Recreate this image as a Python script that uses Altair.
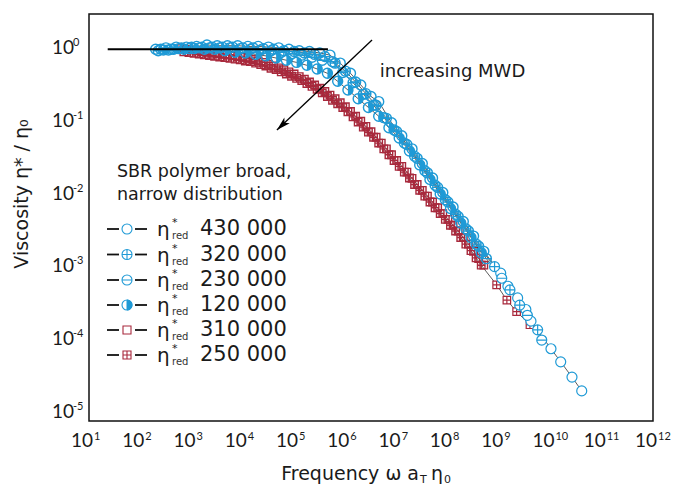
import altair as alt
import pandas as pd

BLUE = "#1f9ad6"
RED = "#a8293c"
FONT = "Lato"
TFONT = "DejaVu Sans"

# ---- data (log10 of frequency and of viscosity ratio) ----
s430_lx = [2.3, 2.5, 2.7, 2.9, 3.1, 3.3, 3.5, 3.7, 3.9, 4.1, 4.3, 4.5, 4.7, 4.9, 5.1, 5.3, 5.5, 5.7, 5.9, 6.1,
           6.3, 6.5, 6.65, 6.9, 7.1, 7.3, 7.5, 7.7, 7.9, 8.1, 8.3, 8.5, 8.7,
           9.03, 9.17, 9.36, 9.52, 9.62, 10.01, 10.2, 10.42, 10.61]
s430_ly = [0.0, 0.02, 0.03, 0.03, 0.04, 0.06, 0.05, 0.05, 0.05, 0.04, 0.04, 0.03, 0.02, 0.0, -0.02, -0.03, -0.05, -0.08, -0.19, -0.33,
           -0.49, -0.65, -0.72, -1.01, -1.19, -1.37, -1.57, -1.77, -1.97, -2.17, -2.37, -2.57, -2.78,
           -3.08, -3.26, -3.42, -3.58, -3.74, -4.12, -4.30, -4.51, -4.70]

s320_lx = [2.4, 2.6, 2.8, 3.0, 3.2, 3.4, 3.6, 3.8, 4.0, 4.2, 4.4, 4.6, 4.8, 5.0, 5.2, 5.4, 5.6, 5.8, 6.0, 6.2,
           6.4, 6.6, 6.8, 7.0, 7.2, 7.4, 7.6, 7.8, 8.0, 8.2, 8.4, 8.6, 8.91, 9.21, 9.40, 9.75]
s320_ly = [0.0, 0.0, 0.02, 0.03, 0.03, 0.03, 0.03, 0.03, 0.02, 0.02, 0.01, 0.0, -0.02, -0.03, -0.05, -0.07, -0.10, -0.19, -0.30, -0.45,
           -0.61, -0.77, -0.95, -1.13, -1.31, -1.50, -1.70, -1.90, -2.10, -2.30, -2.50, -2.71, -2.99, -3.31, -3.52, -3.86]

s230_lx = [2.35, 2.55, 2.75, 2.95, 3.15, 3.35, 3.55, 3.75, 3.95, 4.15, 4.35, 4.55, 4.75, 4.95, 5.15, 5.35, 5.55, 5.75, 5.95, 6.15,
           6.35, 6.55, 6.75, 6.95, 7.15, 7.35, 7.55, 7.75, 7.95, 8.15, 8.35, 8.55, 8.75, 9.05, 9.55, 9.83]
s230_ly = [-0.02, -0.01, 0.01, 0.01, 0.02, 0.02, 0.02, 0.02, 0.01, 0.0, -0.01, -0.02, -0.04, -0.06, -0.08, -0.11, -0.15, -0.17, -0.32, -0.46,
           -0.62, -0.77, -0.94, -1.11, -1.29, -1.47, -1.67, -1.87, -2.07, -2.27, -2.47, -2.68, -2.88, -3.15, -3.66, -4.00]

s120_lx = [2.45, 2.65, 2.85, 3.05, 3.25, 3.45, 3.65, 3.85, 4.05, 4.25, 4.45, 4.65, 4.85, 5.05, 5.25, 5.45, 5.65, 5.85, 6.05, 6.25,
           6.45, 6.65, 6.85, 7.05, 7.25, 7.45, 7.65, 7.85, 8.05, 8.25, 8.45, 8.65]
s120_ly = [-0.01, 0.0, 0.0, 0.01, 0.0, 0.0, -0.02, -0.04, -0.05, -0.07, -0.09, -0.12, -0.15, -0.18, -0.22, -0.27, -0.33, -0.44, -0.56, -0.68,
           -0.80, -0.92, -1.08, -1.22, -1.40, -1.59, -1.79, -1.99, -2.19, -2.39, -2.59, -2.80]

s310_lx = [2.8, 2.9, 3.0, 3.1, 3.2, 3.3, 3.4, 3.5, 3.6, 3.7, 3.8, 3.9, 4.0, 4.1, 4.2, 4.3, 4.4, 4.5, 4.6, 4.7,
           4.8, 4.9, 5.0, 5.1, 5.2, 5.3, 5.4, 5.5, 5.6, 5.7, 5.8, 5.9, 6.0, 6.1, 6.2, 6.3, 6.4, 6.5, 6.6, 6.7,
           6.8, 6.9, 7.0, 7.1, 7.2, 7.3, 7.4, 7.5, 7.6, 7.7, 7.8, 7.9, 8.0, 8.1, 8.2, 8.3, 8.4, 8.5, 8.6, 8.7]
s310_ly = [0.01, 0.0, -0.01, -0.02, -0.03, -0.04, -0.05, -0.06, -0.07, -0.08, -0.09, -0.10, -0.11, -0.125, -0.14, -0.16, -0.18, -0.205, -0.23, -0.255,
           -0.28, -0.31, -0.34, -0.375, -0.41, -0.45, -0.49, -0.535, -0.58, -0.63, -0.68, -0.735, -0.79, -0.855, -0.92, -0.99, -1.06, -1.135, -1.21, -1.29,
           -1.37, -1.45, -1.53, -1.61, -1.69, -1.775, -1.86, -1.94, -2.02, -2.10, -2.18, -2.26, -2.34, -2.42, -2.50, -2.59, -2.68, -2.78, -2.88, -2.97]

s250_lx = [2.85, 2.95, 3.05, 3.15, 3.25, 3.35, 3.45, 3.55, 3.65, 3.75, 3.85, 3.95, 4.05, 4.15, 4.25, 4.35, 4.45, 4.55, 4.65, 4.75,
           4.85, 4.95, 5.05, 5.15, 5.25, 5.35, 5.45, 5.55, 5.65, 5.75, 5.85, 5.95, 6.05, 6.15, 6.25, 6.35, 6.45, 6.55, 6.65, 6.75,
           6.85, 6.95, 7.05, 7.15, 7.25, 7.35, 7.45, 7.55, 7.65, 7.75, 7.85, 7.95, 8.05, 8.15, 8.25, 8.35, 8.45, 8.55, 8.65,
           8.95, 9.15, 9.34, 9.60]
s250_ly = [-0.035, -0.045, -0.055, -0.065, -0.075, -0.085, -0.095, -0.105, -0.115, -0.125, -0.135, -0.145, -0.16, -0.17, -0.19, -0.21, -0.23, -0.26, -0.28, -0.31,
           -0.34, -0.37, -0.40, -0.43, -0.47, -0.51, -0.55, -0.60, -0.65, -0.70, -0.75, -0.80, -0.86, -0.93, -1.00, -1.07, -1.14, -1.21, -1.29, -1.37,
           -1.45, -1.53, -1.61, -1.69, -1.77, -1.86, -1.94, -2.02, -2.10, -2.18, -2.26, -2.34, -2.42, -2.50, -2.59, -2.68, -2.77, -2.87, -2.97,
           -3.24, -3.45, -3.61, -3.79]

legend_labels = ["430 000", "320 000", "230 000", "120 000", "310 000", "250 000"]
legend_title = ["SBR polymer broad,", "narrow distribution"]
x_exponents = [1, 2, 3, 4, 5, 6, 7, 8, 9, 10, 11, 12]
y_exponents = [0, -1, -2, -3, -4, -5]

# plateau reference line and arrow (log10 data coordinates)
plateau_lx = [1.365, 5.66]
arrow_lx = [6.52, 4.665]
arrow_ly = [0.128, -1.11]
note_lx, note_ly = 6.67, -0.31
TAIL_FROM = 8.85  # sparse high-frequency points are drawn white-filled

# ---- shapes ----
CIRCLE = "M-1,0A1,1,0,1,1,1,0A1,1,0,1,1,-1,0Z"
CIRCLE_CROSS = CIRCLE + "M-1,0L1,0M0,-1L0,1"
CIRCLE_BAR = CIRCLE + "M-1,0L1,0"
HALF_RIGHT = "M0,-1A1,1,0,0,1,0,1Z"
SQUARE = "M-1,-1L1,-1L1,1L-1,1Z"
SQUARE_CROSS = SQUARE + "M0,-1L0,1M-1,0L1,0"
ARROW = "M0,0L0.45,1.6L0,1.2L-0.45,1.6Z"

W, H = 564, 407
xscale = alt.Scale(type="log", domain=[10, 1e12], nice=False)
yscale = alt.Scale(type="log", domain=[10 ** -5.114, 10 ** 0.486], nice=False)
X = alt.X("x:Q", scale=xscale, axis=None)
Y = alt.Y("y:Q", scale=yscale, axis=None)


def frame(lx, ly):
    return pd.DataFrame({"lx": lx, "x": [10 ** v for v in lx], "y": [10 ** v for v in ly], "o": list(range(len(lx)))})


def line(d):
    return alt.Chart(d).mark_line(color="#333333", strokeWidth=0.8).encode(x=X, y=Y, order="o:Q")


def pts(d, shape, color, size, sw=1.4):
    dense = d[d["lx"] < TAIL_FROM]
    tail = d[d["lx"] >= TAIL_FROM]
    out = [alt.Chart(dense).mark_point(shape=shape, size=size, filled=False, color=color,
                                       strokeWidth=sw, opacity=1).encode(x=X, y=Y)]
    if len(tail):
        out.append(alt.Chart(tail).mark_point(shape=shape, size=size, filled=True, fill="white", stroke=color,
                                              strokeWidth=1.2, opacity=1, fillOpacity=1).encode(x=X, y=Y))
    return out


def halfs(d, color, size):
    return [alt.Chart(d).mark_point(shape=HALF_RIGHT, size=size, filled=True, color=color,
                                    strokeWidth=0.8, opacity=1).encode(x=X, y=Y)]


d430, d320, d230, d120 = frame(s430_lx, s430_ly), frame(s320_lx, s320_ly), frame(s230_lx, s230_ly), frame(s120_lx, s120_ly)
d310, d250 = frame(s310_lx, s310_ly), frame(s250_lx, s250_ly)

# axes
axis_df = pd.DataFrame({"x": [10.0, 1e12], "y": [1e-5, 1.0]})
xaxis = alt.Axis(values=[10.0 ** k for k in x_exponents], labels=False, ticks=True, tickSize=5, tickWidth=1.5,
                 tickColor="#111111", domain=True, domainColor="#111111", domainWidth=1.5, grid=False, title=None)
yaxis = alt.Axis(values=[10.0 ** k for k in y_exponents], labels=False, ticks=True, tickSize=5, tickWidth=1.5,
                 tickColor="#111111", domain=True, domainColor="#111111", domainWidth=1.5, grid=False, title=None)
axes = alt.Chart(axis_df).mark_point(opacity=0).encode(
    x=alt.X("x:Q", scale=xscale, axis=xaxis), y=alt.Y("y:Q", scale=yscale, axis=yaxis))

xt = pd.DataFrame({"x": [10.0 ** k for k in x_exponents], "e": [str(k) for k in x_exponents]})
yt = pd.DataFrame({"y": [10.0 ** k for k in y_exponents], "e": [str(k) for k in y_exponents]})
LBL = "#1a1a1a"
xt10 = alt.Chart(xt).mark_text(align="right", baseline="alphabetic", dx=4, fontSize=19, font=FONT, color=LBL).encode(
    x=X, y=alt.value(433), text=alt.value("10"))
xte = alt.Chart(xt).mark_text(align="left", baseline="alphabetic", dx=5, fontSize=11, font=FONT, color=LBL).encode(
    x=X, y=alt.value(426), text="e:N")
yt10 = alt.Chart(yt).mark_text(align="left", baseline="middle", dy=-1, fontSize=19, font=FONT, color=LBL).encode(
    x=alt.value(-37), y=Y, text=alt.value("10"))
yte = alt.Chart(yt).mark_text(align="left", baseline="middle", dy=-6, fontSize=11, font=FONT, color=LBL).encode(
    x=alt.value(-16), y=Y, text="e:N")

# plateau line
pl = alt.Chart(pd.DataFrame({"x": [10 ** plateau_lx[0]], "x2": [10 ** plateau_lx[1]], "y": [1.0]})).mark_rule(
    color="#000000", strokeWidth=2).encode(x=X, x2="x2:Q", y=Y)

# arrow
adf = pd.DataFrame({"x": [10 ** arrow_lx[0]], "y": [10 ** arrow_ly[0]], "x2": [10 ** arrow_lx[1]], "y2": [10 ** arrow_ly[1]]})
arrow_line = alt.Chart(adf).mark_rule(color="#000000", strokeWidth=1.3).encode(x=X, y=Y, x2="x2:Q", y2="y2:Q")
ahead = alt.Chart(pd.DataFrame({"x": [10 ** arrow_lx[1]], "y": [10 ** arrow_ly[1]]})).mark_point(
    shape=ARROW, size=306, filled=True, color="#000000", angle=226.5, opacity=1).encode(x=X, y=Y)
note = alt.Chart(pd.DataFrame({"x": [10 ** note_lx], "y": [10 ** note_ly], "t": ["increasing MWD"]})).mark_text(
    align="left", baseline="middle", fontSize=18, font=TFONT, color=LBL).encode(x=X, y=Y, text="t:N")

# legend (pixel positions inside the plot area)
one = pd.DataFrame({"a": [0]})
legend_rows = [215, 240.5, 266, 291, 316, 341]
legend_shapes = [(CIRCLE, BLUE, 100), (CIRCLE_CROSS, BLUE, 100), (CIRCLE_BAR, BLUE, 100), (CIRCLE, BLUE, 100),
                 (SQUARE, RED, 64), (SQUARE_CROSS, RED, 64)]
leg = []
for i, (py, lab, (shp, col, sz)) in enumerate(zip(legend_rows, legend_labels, legend_shapes)):
    leg.append(alt.Chart(one).mark_rule(color="#111111", strokeWidth=1.8).encode(
        x=alt.value(18), x2=alt.value(30), y=alt.value(py)))
    leg.append(alt.Chart(one).mark_rule(color="#111111", strokeWidth=1.8).encode(
        x=alt.value(46), x2=alt.value(58), y=alt.value(py)))
    leg.append(alt.Chart(one).mark_point(shape=shp, size=sz, filled=True, fill="white", stroke=col,
                                         strokeWidth=1.1, opacity=1).encode(x=alt.value(38), y=alt.value(py)))
    if i == 3:
        leg.append(alt.Chart(one).mark_point(shape=HALF_RIGHT, size=100, filled=True, fill=BLUE, stroke=BLUE,
                                             strokeWidth=1, opacity=1).encode(x=alt.value(38), y=alt.value(py)))
    leg.append(alt.Chart(one).mark_text(align="left", baseline="middle", fontSize=20, font=TFONT, color=LBL).encode(
        x=alt.value(68), y=alt.value(py + 1), text=alt.value("η")))
    leg.append(alt.Chart(one).mark_text(align="left", baseline="middle", fontSize=11, font=TFONT, color=LBL).encode(
        x=alt.value(83), y=alt.value(py - 6), text=alt.value("*")))
    leg.append(alt.Chart(one).mark_text(align="left", baseline="middle", fontSize=10, font=TFONT, color="#333333").encode(
        x=alt.value(83), y=alt.value(py + 7), text=alt.value("red")))
    leg.append(alt.Chart(one).mark_text(align="left", baseline="middle", fontSize=21, font=TFONT, color=LBL).encode(
        x=alt.value(111), y=alt.value(py), text=alt.value(lab)))
for j, t in enumerate(legend_title):
    leg.append(alt.Chart(one).mark_text(align="left", baseline="middle", fontSize=17.5, font=TFONT, color=LBL).encode(
        x=alt.value(28), y=alt.value(158 + 23 * j), text=alt.value(t)))

# axis titles
titles = [
    alt.Chart(one).mark_text(align="right", baseline="alphabetic", fontSize=19, font=TFONT, color=LBL).encode(
        x=alt.value(330), y=alt.value(466), text=alt.value("Frequency ω a")),
    alt.Chart(one).mark_text(align="left", baseline="alphabetic", fontSize=11, font=TFONT, color=LBL).encode(
        x=alt.value(331), y=alt.value(469), text=alt.value("T")),
    alt.Chart(one).mark_text(align="left", baseline="alphabetic", fontSize=19, font=TFONT, color=LBL).encode(
        x=alt.value(342), y=alt.value(466), text=alt.value("η")),
    alt.Chart(one).mark_text(align="left", baseline="alphabetic", fontSize=11, font=TFONT, color=LBL).encode(
        x=alt.value(355), y=alt.value(469), text=alt.value("0")),
    alt.Chart(one).mark_text(align="center", baseline="middle", angle=270, fontSize=19, font=TFONT, color=LBL).encode(
        x=alt.value(-67), y=alt.value(180), text=alt.value("Viscosity η* / η₀")),
]

layers = ([axes, line(d310), line(d250)]
          + pts(d310, SQUARE, RED, 56) + pts(d250, SQUARE_CROSS, RED, 56)
          + [line(d430), line(d320), line(d230), line(d120)]
          + pts(d430, CIRCLE, BLUE, 100) + pts(d320, CIRCLE_CROSS, BLUE, 100) + pts(d230, CIRCLE_BAR, BLUE, 100)
          + pts(d120, CIRCLE, BLUE, 100) + halfs(d120, BLUE, 100)
          + [pl, arrow_line, ahead, note, xt10, xte, yt10, yte] + leg + titles)

chart = alt.layer(*layers).properties(
    width=W, height=H, padding={"left": 89, "top": 14, "right": 20, "bottom": 66}, autosize="none",
    background="white"
).configure_view(stroke="#111111", strokeWidth=1.5)

chart.save("out.html", embed_options={"renderer": "svg", "actions": False})
